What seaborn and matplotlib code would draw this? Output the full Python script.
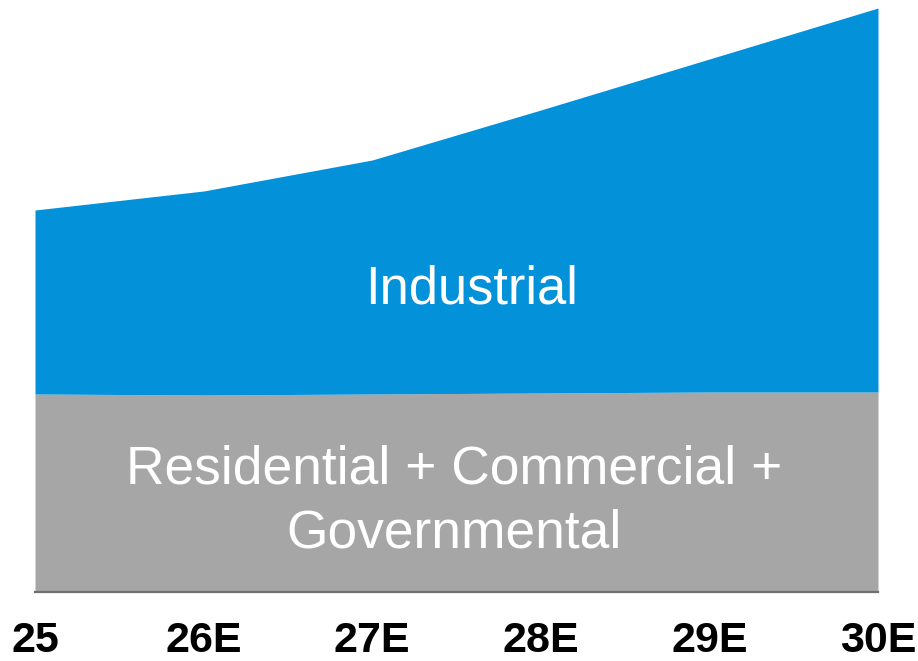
import matplotlib
matplotlib.use("Agg")
import matplotlib.pyplot as plt
import seaborn as sns
import pandas as pd

# Market size by end-use segment (arbitrary units), actual 2025 and estimates thereafter
years = ["25", "26E", "27E", "28E", "29E", "30E"]
residential_commercial_gov = [198, 197, 198, 199, 200, 200]
industrial = [184, 204, 234, 283, 333, 384]

df = pd.DataFrame({
    "year": years,
    "Residential + Commercial + Governmental": residential_commercial_gov,
    "Industrial": industrial,
})

sns.set_theme(style="white")
plt.rcParams["font.family"] = ["Liberation Sans", "DejaVu Sans"]

GRAY = "#A6A6A6"
BLUE = "#0391DA"

fig = plt.figure(figsize=(9.18, 6.61), dpi=100)
ax = fig.add_axes([35 / 918, 69 / 661, 843 / 918, 584 / 661])

x = list(range(len(df)))
ax.stackplot(
    x,
    df["Residential + Commercial + Governmental"],
    df["Industrial"],
    colors=[GRAY, BLUE],
    linewidth=0,
)

ax.set_xlim(0, len(df) - 1)
ax.set_ylim(0, 584)

ax.set_xticks(x)
ax.set_xticklabels(df["year"], fontsize=31, fontweight="bold", color="black")
ax.tick_params(axis="x", length=0, pad=21)
ax.set_yticks([])
ax.set_xlabel("")
ax.set_ylabel("")

for side in ["top", "left", "right"]:
    ax.spines[side].set_visible(False)
ax.spines["bottom"].set_color("#6F6F6F")
ax.spines["bottom"].set_linewidth(1.6)

# Segment labels inside the areas
ax.text(2.59, 289, "Industrial", color="white", fontsize=37.8,
        ha="center", va="baseline")
ax.text(2.487, 108, "Residential + Commercial +", color="white", fontsize=38.4,
        ha="center", va="baseline")
ax.text(2.487, 44, "Governmental", color="white", fontsize=38.4,
        ha="center", va="baseline")

fig.savefig("out.png", dpi=100, facecolor="white")
